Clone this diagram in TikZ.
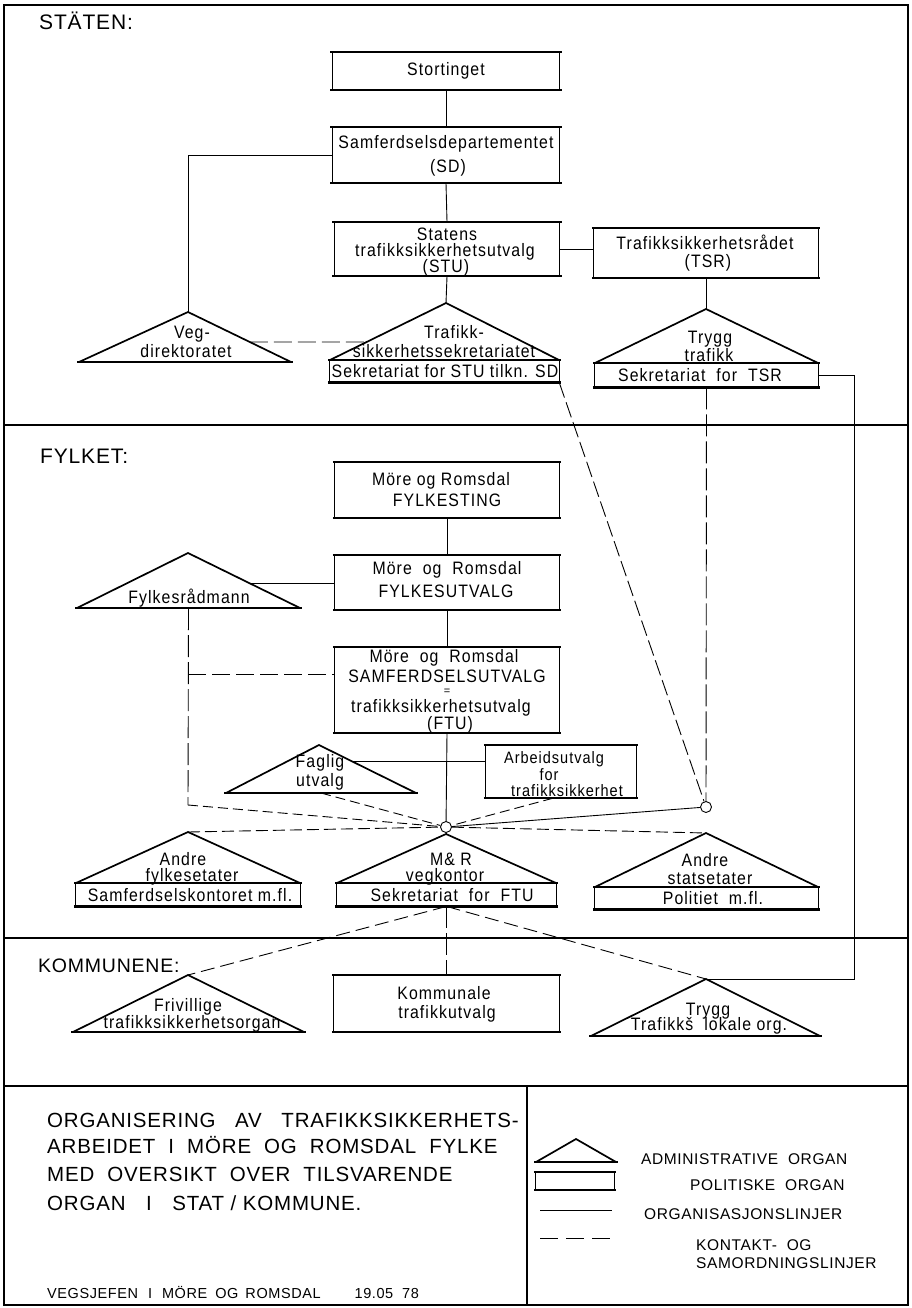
\documentclass[tikz,border=0pt]{standalone}
\usepackage{fontspec}
\setmainfont{Liberation Sans}[LetterSpace=4]
\newfontfamily\dfont{Liberation Sans}[LetterSpace=6, FakeStretch=0.88]
\usetikzlibrary{calc}
\tikzset{
  thinl/.style={line width=0.9pt},
  thickl/.style={line width=2.2pt},
  tril/.style={line width=1.7pt, line join=miter},
  frame/.style={line width=1.6pt},
  org/.style={line width=0.9pt},
  kon/.style={line width=0.9pt, dash pattern=on 14pt off 6pt},
  konlong/.style={line width=0.9pt, dash pattern=on 22pt off 5pt},
  pbox/.style={rectangle, draw=none, inner sep=0pt},
  txt/.style={inner sep=0pt, anchor=base, font=\dfont\fontsize{18}{20}\selectfont},
  smtxt/.style={inner sep=0pt, anchor=base, font=\dfont\fontsize{16.5}{18}\selectfont},
  sect/.style={inner sep=0pt, anchor=base west, font=\fontsize{21}{24}\selectfont},
  big/.style={inner sep=0pt, anchor=base west, font=\fontsize{20.5}{24}\selectfont},
  knot/.style={circle, draw, fill=white, inner sep=0pt, minimum size=11pt, line width=0.9pt},
  legtxt/.style={inner sep=0pt, anchor=base west, font=\fontsize{15.5}{18}\selectfont},
}
% political box frame: thin sides, thick top and bottom
\newcommand\pbframe[1]{%
  \draw[thinl] (#1.north west) -- (#1.south west) (#1.north east) -- (#1.south east);
  \draw[thickl] ([xshift=-2pt]#1.north west) -- ([xshift=2pt]#1.north east);
  \draw[thickl] ([xshift=-2pt]#1.south west) -- ([xshift=2pt]#1.south east);}
% secretariat strip under a triangle: thin sides, thick bottom
\newcommand\sframe[1]{%
  \draw[thinl] (#1.north west) -- (#1.south west) (#1.north east) -- (#1.south east);
  \draw[thickl] ([xshift=-2pt]#1.south west) -- ([xshift=2pt]#1.south east);}
% administrative triangle: name, apex x, apex y, left x, right x, base y
\newcommand\admtri[6]{%
  \coordinate (#1-a) at (#2,#3);
  \coordinate (#1-l) at (#4,#6);
  \coordinate (#1-r) at (#5,#6);
  \coordinate (#1-b) at ($(#1-l)!0.5!(#1-r)$);
  \draw[tril] (#1-l) -- (#1-a) -- (#1-r);
  \draw[thickl] ([xshift=-2pt]#1-l) -- ([xshift=2pt]#1-r);}
\begin{document}
\begin{tikzpicture}[x=1pt,y=-1pt]
\useasboundingbox (0,0) rectangle (912,1308);
% frame and dividers
\draw[frame] (4,5) rectangle (908,1305);
\draw[frame] (4,425) -- (908,425);
\draw[frame] (4,938) -- (908,938);
\draw[frame] (4,1086) -- (908,1086);
\draw[frame] (527,1086) -- (527,1305);
% section labels
\node[sect] (lab-stat) at (39,30) {STÄTEN:};
\node[sect] (lab-fylk) at (40,463) {FYLKET:};
\node[sect, font=\fontsize{19.5}{22}\selectfont] (lab-komm) at (38,972) {KOMMUNENE:};

% ---------------- STATEN ----------------
\node[pbox, minimum width=227pt, minimum height=38pt] (stort) at (446,71) {};
\pbframe{stort}
\node[txt] (stort-t) at (446,76) {Stortinget};
\node[pbox, minimum width=227pt, minimum height=56pt] (sd) at (446,155) {};
\pbframe{sd}
\node[txt] (sd-t1) at (446,149) {Samferdselsdepartementet};
\node[txt] (sd-t2) at (448,173) {(SD)};
\node[pbox, minimum width=225pt, minimum height=54pt] (stu) at (447,249) {};
\pbframe{stu}
\node[txt] (stu-t1) at (447,240) {Statens};
\node[txt] (stu-t2) at (445,256) {trafikksikkerhetsutvalg};
\node[txt] (stu-t3) at (446,272) {(STU)};
\node[pbox, minimum width=224pt, minimum height=50pt] (tsr) at (706,253) {};
\pbframe{tsr}
\node[txt] (tsr-t1) at (705,249) {Trafikksikkerhetsrådet};
\node[txt] (tsr-t2) at (708,267) {(TSR)};

\admtri{vd}{188}{312}{79}{291}{362}
\node[txt] (vd-t1) at (192,338) {Veg-};
\node[txt] (vd-t2) at (186,357) {direktoratet};

\admtri{tss}{446}{303}{330}{559}{360}
\node[txt] (tss-t1) at (454,338) {Trafikk-};
\node[txt] (tss-t2) at (444,357) {sikkerhetssekretariatet};
\node[pbox, minimum width=229pt, minimum height=22pt, anchor=north] (tss-s) at (444.5,360) {};
\sframe{tss-s}
\node[txt] (tss-s-t) at (445,377) {Sekretariat\ for\ STU tilkn. SD};

\admtri{tt}{706}{309}{595}{818}{363}
\node[txt] (tt-t1) at (710,343) {Trygg};
\node[txt] (tt-t2) at (709,361) {trafikk};
\node[pbox, minimum width=223pt, minimum height=24pt, anchor=north] (tt-s) at (706.5,363) {};
\sframe{tt-s}
\node[txt] (tt-s-t) at (700,381) {Sekretariat\ \ for\ \ TSR};

% ---------------- FYLKET ----------------
\node[pbox, minimum width=224pt, minimum height=56pt] (fting) at (447,490) {};
\pbframe{fting}
\node[txt] (fting-t1) at (441,485) {Möre og Romsdal};
\node[txt] (fting-t2) at (447,506) {FYLKESTING};
\node[pbox, minimum width=224pt, minimum height=55pt] (futv) at (447,582.5) {};
\pbframe{futv}
\node[txt] (futv-t1) at (447,574) {Möre\ \ og\ \ Romsdal};
\node[txt] (futv-t2) at (446,597) {FYLKESUTVALG};
\node[pbox, minimum width=224pt, minimum height=86pt] (samf) at (447,690) {};
\pbframe{samf}
\node[txt] (samf-t1) at (444,662) {Möre\ \ og\ \ Romsdal};
\node[txt] (samf-t2) at (447,682) {SAMFERDSELSUTVALG};
\node[txt, font=\fontsize{11}{12}\selectfont] (samf-t3) at (447,694) {=};
\node[txt] (samf-t4) at (441,712) {trafikksikkerhetsutvalg};
\node[txt] (samf-t5) at (450,729) {(FTU)};

\admtri{fr}{188}{553}{77}{300}{608}
\node[txt] (fr-t) at (189,603) {Fylkesrådmann};

\admtri{fu}{319}{745}{226}{416}{793}
\node[txt] (fu-t1) at (320,767) {Faglig};
\node[txt] (fu-t2) at (320,786) {utvalg};
\node[pbox, minimum width=150pt, minimum height=53pt] (arb) at (561,771.5) {};
\pbframe{arb}
\node[smtxt] (arb-t1) at (554,763) {Arbeidsutvalg};
\node[smtxt] (arb-t2) at (549,780) {for};
\node[smtxt] (arb-t3) at (567,796) {trafikksikkerhet};

\node[knot] (c1) at (446,827) {};
\node[knot] (c2) at (706,807) {};

\admtri{af}{188}{832}{76}{300}{883}
\node[txt] (af-t1) at (183,865) {Andre};
\node[txt] (af-t2) at (192,881) {fylkesetater};
\node[pbox, minimum width=224pt, minimum height=23pt, anchor=north] (af-s) at (188,883) {};
\sframe{af-s}
\node[txt] (af-s-t) at (190,901) {Samferdselskontoret m.fl.};

\admtri{mr}{446}{834}{337}{556}{883}
\node[txt] (mr-t1) at (451,865) {M\&\ R};
\node[txt] (mr-t2) at (445,881) {vegkontor};
\node[pbox, minimum width=219pt, minimum height=23pt, anchor=north] (mr-s) at (446.5,883) {};
\sframe{mr-s}
\node[txt] (mr-s-t) at (452,901) {Sekretariat\ \ for\ \ FTU};

\admtri{as}{706}{833}{595}{818}{887}
\node[txt] (as-t1) at (705,866) {Andre};
\node[txt] (as-t2) at (710,884) {statsetater};
\node[pbox, minimum width=223pt, minimum height=22pt, anchor=north] (as-s) at (706.5,887) {};
\sframe{as-s}
\node[txt] (as-s-t) at (713,904) {Politiet\ \ m.fl.};

% ---------------- KOMMUNENE ----------------
\admtri{fv}{188}{975}{73}{304}{1032}
\node[txt] (fv-t1) at (188,1011) {Frivillige};
\node[txt] (fv-t2) at (192,1028) {trafikksikkerhetsorgan};
\node[pbox, minimum width=225pt, minimum height=57pt] (kom) at (446.5,1003.5) {};
\pbframe{kom}
\node[txt] (kom-t1) at (444,999) {Kommunale};
\node[txt] (kom-t2) at (447,1018) {trafikkutvalg};
\admtri{tl}{706}{979}{591}{820}{1036}
\node[txt] (tl-t1) at (708,1015) {Trygg};
\node[txt] (tl-t2) at (709,1030) {Trafikkš\ \ lokale org.};

% ---------------- connectors ----------------
\draw[org] (stort.south) -- (sd.north);
\draw[org] (sd.south) -- (stu.north);
\draw[org] (stu.south) -- (tss-a);
\draw[org] (sd.west) -| (vd-a);
\draw[org] (stu.east) -- (stu.east -| tsr.west);
\draw[org] (tsr.south) -- (tt-a);
\coordinate (vd-p) at ($(vd-a)!0.6!(vd-r)$);
\coordinate (tss-p) at ($(tss-a)!0.684!(tss-l)$);
\draw[kon, dash pattern=on 18pt off 6pt] (vd-p) -- (tss-p);
\draw[kon, dash pattern=on 16pt off 5pt] (tss-s.south east) -- (c2);
\draw[konlong] (tt-s.south) -- (c2);
\draw[org] (tt-s.east) -- ++(36,0) |- (tl-a);

\draw[org] (fting.south) -- (futv.north);
\draw[org] (futv.south) -- (samf.north);
\coordinate (fr-p) at ($(fr-a)!0.545!(fr-r)$);
\draw[org] (fr-p) -- (fr-p -| futv.west);
\coordinate (d1) at (188,805);
\coordinate (k1) at (188,674);
\draw[konlong] (fr-b) -- (d1);
\draw[kon, dash pattern=on 18pt off 6pt] (k1) -- (k1 -| samf.west);
\draw[org] (samf.south) -- (c1);
\coordinate (fu-p) at ($(fu-a)!0.333!(fu-r)$);
\draw[org] (fu-p) -- (fu-p -| arb.west);
\draw[kon, dash pattern=on 10pt off 5pt] (fu-b) -- (c1);
\draw[kon, dash pattern=on 10pt off 5pt] ([xshift=-8pt]arb.south) -- (c1);
\draw[kon, dash pattern=on 10pt off 5pt] (d1) -- (c1);
\draw[org] (c2) -- (c1);
\draw[kon, dash pattern=on 12pt off 5pt] (af-a) -- (c1);
\draw[kon, dash pattern=on 12pt off 5pt] (c1) -- (as-a);
\draw[org] (c1) -- (mr-a);

\draw[kon] (mr-s.south) -- (fv-a);
\draw[konlong] (mr-s.south) -- (kom.north);
\draw[kon] (mr-s.south) -- (tl-a);

% ---------------- title block ----------------
\node[big] (title1) at (47,1127) {ORGANISERING\ \ \ AV\ \ \ TRAFIKKSIKKERHETS-};
\node[big] (title2) at (47,1153) {ARBEIDET\ \ I\ \ MÖRE\ \ OG\ \ ROMSDAL\ \ FYLKE};
\node[big] (title3) at (47,1181) {MED\ \ OVERSIKT\ \ OVER\ \ TILSVARENDE};
\node[big] (title4) at (47,1210) {ORGAN\quad I\quad STAT / KOMMUNE.};
\node[inner sep=0pt, anchor=base west, font=\fontsize{14.5}{16}\selectfont] (sign) at (47,1298)
  {VEGSJEFEN\hspace{10pt}I\hspace{10pt}MÖRE\hspace{8pt}OG\hspace{7pt}ROMSDAL\hspace{34pt}19.05\hspace{9pt}78};

% legend
\admtri{lg}{576}{1139}{536}{616}{1162}
\node[pbox, minimum width=78pt, minimum height=18pt] (lg-r) at (575,1181) {};
\pbframe{lg-r}
\coordinate (lg-o1) at (540,1210);
\coordinate (lg-o2) at (612,1210);
\draw[org] (lg-o1) -- (lg-o2);
\coordinate (lg-k1) at (540,1238);
\coordinate (lg-k2) at (612,1238);
\draw[kon, dash pattern=on 18pt off 8pt] (lg-k1) -- (lg-k2);
\node[legtxt] (lg-t1) at (641,1164) {ADMINISTRATIVE\ \ ORGAN};
\node[legtxt] (lg-t2) at (690,1190) {POLITISKE\ \ ORGAN};
\node[legtxt] (lg-t3) at (644,1219) {ORGANISASJONSLINJER};
\node[legtxt] (lg-t4) at (696,1250) {KONTAKT-\ \ OG};
\node[legtxt] (lg-t5) at (696,1268) {SAMORDNINGSLINJER};
\end{tikzpicture}
\end{document}
